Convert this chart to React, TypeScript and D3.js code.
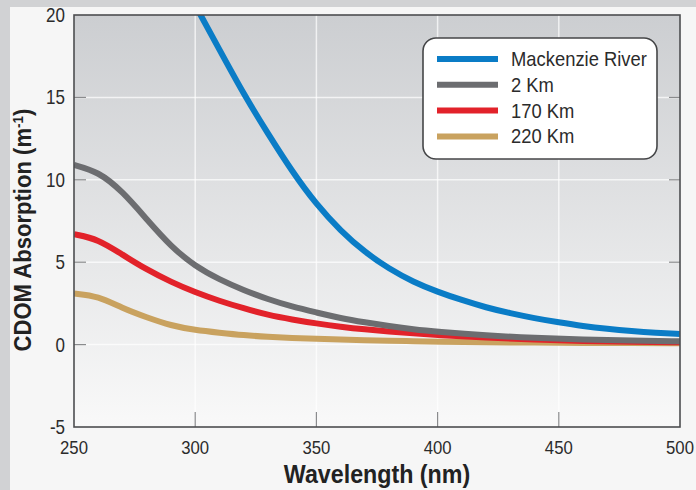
import React, { useEffect, useRef } from 'react';
import * as d3 from 'd3';

// wavelength (nm) sample points
const wlBlue = [300, 310, 320, 330, 340, 350, 360, 370, 380, 390, 400, 410, 420, 430, 440, 450, 460, 470, 480, 490, 500];
const mackenzie = [20.6, 17.9, 15.2, 12.8, 10.5, 8.5, 6.9, 5.6, 4.6, 3.8, 3.2, 2.7, 2.25, 1.9, 1.6, 1.35, 1.12, 0.95, 0.82, 0.72, 0.65];

const wl = [250, 260, 270, 280, 290, 300, 310, 320, 330, 340, 350, 360, 370, 380, 390, 400, 420, 440, 460, 480, 500];
const km2 = [10.9, 10.5, 9.3, 7.6, 5.95, 4.75, 3.95, 3.3, 2.75, 2.3, 1.95, 1.6, 1.35, 1.12, 0.92, 0.78, 0.55, 0.4, 0.3, 0.24, 0.2];
const km170 = [6.7, 6.4, 5.45, 4.55, 3.8, 3.17, 2.65, 2.2, 1.8, 1.52, 1.28, 1.08, 0.92, 0.8, 0.68, 0.58, 0.42, 0.3, 0.22, 0.17, 0.14];
const km220 = [3.1, 2.95, 2.2, 1.65, 1.15, 0.88, 0.72, 0.57, 0.47, 0.4, 0.35, 0.3, 0.27, 0.24, 0.21, 0.18, 0.14, 0.12, 0.1, 0.09, 0.08];

const seriesNames = ['Mackenzie River', '2 Km', '170 Km', '220 Km'];
const seriesColors = ['#0a7cc6', '#6c6d70', '#e2222a', '#c9a25f'];

const xTicks = [250, 300, 350, 400, 450, 500];
const yTicks = [-5, 0, 5, 10, 15, 20];

// no condensed face installed, so squeeze Liberation Sans horizontally
const FONT = '"Liberation Sans", Arial, sans-serif';

type Sel = d3.Selection<any, unknown, null, undefined>;

const ntext = (parent: Sel, x: number, y: number, size: number, sx: number, anchor: string, txt: string, bold = false) =>
  parent.append('text')
    .attr('transform', `translate(${x}, ${y}) scale(${sx}, 1)`)
    .attr('text-anchor', anchor)
    .attr('font-family', FONT)
    .attr('font-size', size)
    .attr('font-weight', bold ? 'bold' : 'normal')
    .attr('fill', bold ? '#222' : '#2b2b2b')
    .text(txt);

const App: React.FC = () => {
  const ref = useRef<SVGSVGElement>(null);

  useEffect(() => {
    if (!ref.current) return;
    const svg = d3.select(ref.current);
    svg.selectAll('*').remove();

    const width = 696;
    const height = 490;
    const margin = { top: 15, right: 16, bottom: 63, left: 74 };
    const innerW = width - margin.left - margin.right;
    const innerH = height - margin.top - margin.bottom;

    const x = d3.scaleLinear().domain([250, 500]).range([0, innerW]);
    const y = d3.scaleLinear().domain([-5, 20]).range([innerH, 0]);

    // page background + white panel
    svg.append('rect').attr('width', width).attr('height', height).attr('fill', '#d1d2d4');
    svg.append('rect').attr('x', 10).attr('y', 7).attr('width', width - 10).attr('height', height - 7).attr('fill', '#f6f6f6');

    const defs = svg.append('defs');
    const grad = defs.append('linearGradient').attr('id', 'bg').attr('x1', 0).attr('y1', 0).attr('x2', 0).attr('y2', 1);
    grad.append('stop').attr('offset', '0%').attr('stop-color', '#ccced1');
    grad.append('stop').attr('offset', '100%').attr('stop-color', '#f9f9f9');
    defs.append('clipPath').attr('id', 'clip')
      .append('rect').attr('width', innerW).attr('height', innerH);

    const g = svg.append('g').attr('transform', `translate(${margin.left}, ${margin.top})`);

    g.append('rect').attr('width', innerW).attr('height', innerH).attr('fill', 'url(#bg)');

    // grid
    g.selectAll('.vgrid')
      .data(xTicks.slice(1, -1))
      .enter().append('line')
      .attr('x1', d => x(d)).attr('x2', d => x(d))
      .attr('y1', 0).attr('y2', innerH)
      .attr('stroke', '#ffffff').attr('stroke-opacity', 0.7).attr('stroke-width', 1.5);
    g.selectAll('.hgrid')
      .data(yTicks.slice(1, -1))
      .enter().append('line')
      .attr('x1', 0).attr('x2', innerW)
      .attr('y1', d => y(d)).attr('y2', d => y(d))
      .attr('stroke', '#ffffff').attr('stroke-opacity', 0.7).attr('stroke-width', 1.5);

    // inward tick marks
    const tickColor = '#8a8b8d';
    g.selectAll('.ltick').data(yTicks.slice(1, -1)).enter().append('line')
      .attr('x1', 0).attr('x2', 12).attr('y1', d => y(d)).attr('y2', d => y(d))
      .attr('stroke', tickColor).attr('stroke-width', 1.2);
    g.selectAll('.rtick').data(yTicks.slice(1, -1)).enter().append('line')
      .attr('x1', innerW - 11).attr('x2', innerW).attr('y1', d => y(d)).attr('y2', d => y(d))
      .attr('stroke', tickColor).attr('stroke-width', 1.2);
    g.selectAll('.btick').data(xTicks.slice(1, -1)).enter().append('line')
      .attr('x1', d => x(d)).attr('x2', d => x(d)).attr('y1', innerH - 15).attr('y2', innerH)
      .attr('stroke', tickColor).attr('stroke-width', 1.2);

    // curves
    const line = d3.line<[number, number]>()
      .x(d => x(d[0]))
      .y(d => y(d[1]))
      .curve(d3.curveBasis);

    const series: [number, number][][] = [
      wlBlue.map((w, i) => [w, mackenzie[i]]),
      wl.map((w, i) => [w, km2[i]]),
      wl.map((w, i) => [w, km170[i]]),
      wl.map((w, i) => [w, km220[i]]),
    ];

    const curves = g.append('g').attr('clip-path', 'url(#clip)');
    // draw back to front so blue sits on top
    [3, 2, 1, 0].forEach(i => {
      curves.append('path')
        .attr('d', line(series[i]))
        .attr('fill', 'none')
        .attr('stroke', seriesColors[i])
        .attr('stroke-width', 6);
    });

    // frame
    g.append('rect').attr('width', innerW).attr('height', innerH)
      .attr('fill', 'none').attr('stroke', '#4d4e50').attr('stroke-width', 1.6);

    // tick labels
    yTicks.forEach(t => ntext(g, -9, y(t) + 7, 20, 0.85, 'end', String(t)));
    xTicks.forEach(t => ntext(g, x(t), innerH + 27, 19, 0.88, 'middle', String(t)));

    // axis titles
    ntext(svg, margin.left + innerW / 2, 483, 25, 0.93, 'middle', 'Wavelength (nm)', true);

    const yTitle = svg.append('text')
      .attr('transform', `translate(31, ${margin.top + innerH * 0.522}) rotate(-90) scale(0.96, 1)`)
      .attr('text-anchor', 'middle')
      .attr('font-family', FONT).attr('font-size', 23).attr('font-weight', 'bold').attr('fill', '#222');
    yTitle.append('tspan').text('CDOM Absorption (m');
    yTitle.append('tspan').attr('font-size', 14).attr('dy', -8).text('-1');
    yTitle.append('tspan').attr('dy', 8).text(')');

    // legend
    const lg = svg.append('g').attr('transform', 'translate(423, 38)');
    lg.append('rect')
      .attr('width', 234).attr('height', 121).attr('rx', 13).attr('ry', 13)
      .attr('fill', '#ffffff').attr('stroke', '#454648').attr('stroke-width', 1.6);
    seriesNames.forEach((name, i) => {
      const cy = 21 + i * 25.8;
      lg.append('line')
        .attr('x1', 14).attr('x2', 75).attr('y1', cy).attr('y2', cy)
        .attr('stroke', seriesColors[i]).attr('stroke-width', 6);
      ntext(lg, 88, cy + 7, 20, 0.92, 'start', name);
    });
  }, []);

  return (
    <div style={{ position: 'fixed', left: 0, top: 0 }}>
      <svg ref={ref} width={696} height={490} style={{ display: 'block' }}></svg>
    </div>
  );
};

export default App;
